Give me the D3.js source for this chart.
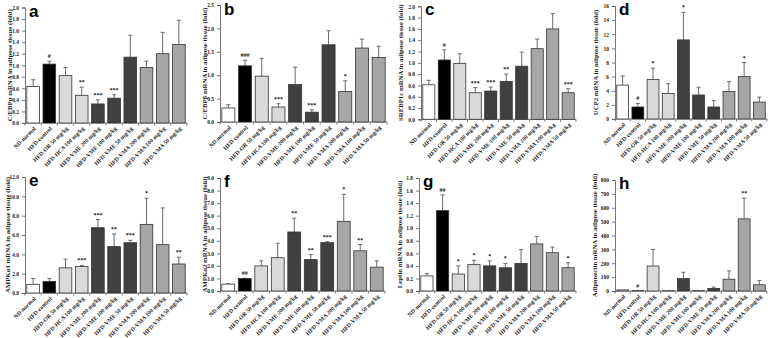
<!DOCTYPE html>
<html lang="en">
<head>
    <meta charset="UTF-8">
    <title>Adipose tissue mRNA expression</title>
    <script src="https://d3js.org/d3.v7.min.js"></script>
    <style>
        body { margin: 0; background: #fff; }
        .tick-label, .cat-label, .y-title, .sig { font-family: "Liberation Serif", "Times New Roman", serif; font-weight: bold; fill: #222; }
        .panel-letter { font-family: "Liberation Sans", Arial, sans-serif; font-weight: bold; fill: #000; }
    </style>
</head>
<body>
<div id="chart"></div>
<script>
    // groups on the x axis
    var categories = ["ND-normal", "HFD-control", "HFD-OR 50 mg/kg", "HFD-HCA 100 mg/kg",
        "HFD-VME 200 mg/kg", "HFD-VME 100 mg/kg", "HFD-VME 50 mg/kg",
        "HFD-VMA 200 mg/kg", "HFD-VMA 100 mg/kg", "HFD-VMA 50 mg/kg"];

    // mean fold change, upper error (SD), significance marks per gene
    var cebpaMean = [0.63, 1.02, 0.82, 0.48, 0.33, 0.43, 1.14, 0.96, 1.20, 1.36];
    var cebpaSd   = [0.12, 0.05, 0.14, 0.14, 0.07, 0.06, 0.38, 0.11, 0.37, 0.42];
    var cebpaSig  = ["", "#", "", "**", "***", "***", "", "", "", ""];

    var cebpbMean = [0.30, 1.20, 0.98, 0.32, 0.80, 0.21, 1.65, 0.65, 1.58, 1.38];
    var cebpbSd   = [0.07, 0.12, 0.38, 0.07, 0.37, 0.05, 0.30, 0.23, 0.19, 0.24];
    var cebpbSig  = ["", "###", "", "***", "", "***", "", "*", "", ""];

    var srebpMean = [0.61, 1.05, 0.99, 0.47, 0.50, 0.67, 0.94, 1.25, 1.60, 0.47];
    var srebpSd   = [0.08, 0.18, 0.17, 0.09, 0.07, 0.13, 0.25, 0.17, 0.27, 0.07];
    var srebpSig  = ["", "#", "", "***", "***", "**", "", "", "", "***"];

    var ucp2Mean = [4.8, 1.7, 5.6, 3.6, 11.2, 3.4, 1.7, 3.9, 6.0, 2.4];
    var ucp2Sd   = [1.3, 0.5, 1.6, 1.4, 3.9, 1.1, 0.9, 1.4, 2.0, 0.7];
    var ucp2Sig  = ["", "#", "*", "", "*", "", "", "", "*", ""];

    var ampk1Mean = [0.9, 1.2, 2.6, 2.75, 6.75, 4.8, 5.2, 7.1, 5.0, 3.0];
    var ampk1Sd   = [0.6, 0.3, 0.9, 0.1, 0.85, 1.3, 0.25, 2.7, 3.8, 0.7];
    var ampk1Sig  = ["", "", "", "***", "***", "**", "***", "*", "", "**"];

    var ampk2Mean = [0.55, 1.0, 2.0, 2.65, 4.7, 2.5, 3.85, 5.55, 3.2, 1.9];
    var ampk2Sd   = [0.03, 0.02, 0.4, 1.15, 1.1, 0.4, 0.07, 2.15, 0.5, 0.5];
    var ampk2Sig  = ["", "##", "", "", "**", "**", "***", "*", "**", ""];

    var leptinMean = [0.24, 1.28, 0.27, 0.42, 0.40, 0.37, 0.44, 0.75, 0.61, 0.37];
    var leptinSd   = [0.04, 0.25, 0.13, 0.07, 0.08, 0.07, 0.22, 0.12, 0.09, 0.08];
    var leptinSig  = ["", "##", "*", "*", "*", "*", "", "", "", "*"];

    var adipoMean = [8, 2, 180, 2, 90, 2, 18, 85, 520, 45];
    var adipoSd   = [0, 0, 120, 0, 45, 0, 10, 60, 150, 30];
    var adipoSig  = ["", "#", "", "", "", "", "", "", "**", ""];

    var fills = ["#ffffff", "#000000", "#d9d9d9", "#d9d9d9", "#404040", "#404040", "#404040", "#a6a6a6", "#a6a6a6", "#a6a6a6"];

    // layout of the eight panels
    var panels = [
        {letter: "a", title: "C/EBP\u03b1 mRNA in adipose tissue (fold)", mean: cebpaMean, sd: cebpaSd, sig: cebpaSig,
         max: 2.0, step: 0.2, fmt: ".1f", x0: 25, x1: 186, top: 7.5, base: 123, tx: 10},
        {letter: "b", title: "C/EBP\u03b2 mRNA in adipose tissue (fold)", mean: cebpbMean, sd: cebpbSd, sig: cebpbSig,
         max: 2.5, step: 0.5, fmt: ".1f", x0: 220, x1: 386, top: 5, base: 122, tx: 205},
        {letter: "c", title: "SREBP1c mRNA in adipose tissue (fold)", mean: srebpMean, sd: srebpSd, sig: srebpSig,
         max: 2.0, step: 0.2, fmt: ".1f", x0: 421, x1: 575, top: 6.3, base: 119.3, tx: 401},
        {letter: "d", title: "UCP2 mRNA in adipose tissue (fold)", mean: ucp2Mean, sd: ucp2Sd, sig: ucp2Sig,
         max: 16, step: 2, fmt: "d", x0: 615, x1: 766, top: 6, base: 119, tx: 596},
        {letter: "e", title: "AMPK\u03b11 mRNA in adipose tissue (fold)", mean: ampk1Mean, sd: ampk1Sd, sig: ampk1Sig,
         max: 12, step: 2, fmt: ".1f", x0: 25, x1: 186, top: 177, base: 293, tx: 8},
        {letter: "f", title: "AMPK\u03b12 mRNA in adipose tissue (fold)", mean: ampk2Mean, sd: ampk2Sd, sig: ampk2Sig,
         max: 9, step: 1, fmt: ".1f", x0: 220, x1: 384, top: 178, base: 291, tx: 205},
        {letter: "g", title: "Leptin mRNA in adipose tissue (fold)", mean: leptinMean, sd: leptinSd, sig: leptinSig,
         max: 1.8, step: 0.2, fmt: ".1f", x0: 419, x1: 575, top: 178, base: 291, tx: 400},
        {letter: "h", title: "Adiponectin mRNA in adipose tissue (fold)", mean: adipoMean, sd: adipoSd, sig: adipoSig,
         max: 800, step: 100, fmt: "d", x0: 615, x1: 766, top: 180, base: 291, tx: 595}
    ];

    var svg = d3.select("#chart").append("svg")
        .attr("width", 778)
        .attr("height", 338);

    panels.forEach(function(p) {
        var g = svg.append("g");

        var x = d3.scaleBand()
            .domain(categories)
            .range([p.x0 + 1, p.x1])
            .paddingInner(0.22)
            .paddingOuter(0.05);

        var y = d3.scaleLinear()
            .domain([0, p.max])
            .range([p.base, p.top]);

        var ticks = d3.range(0, p.max + p.step / 2, p.step);

        // y axis
        var yAxis = d3.axisLeft(y)
            .tickValues(ticks)
            .tickFormat(d3.format(p.fmt))
            .tickSize(3)
            .tickPadding(3);
        var ya = g.append("g")
            .attr("transform", "translate(" + p.x0 + ",0)")
            .call(yAxis);
        ya.select(".domain").attr("stroke", "#555").attr("stroke-width", 0.8);
        ya.selectAll(".tick line").attr("stroke", "#555").attr("stroke-width", 0.8);
        ya.selectAll(".tick text").attr("class", "tick-label").attr("font-size", 5.5).attr("fill", "#222");

        // x baseline with small ticks between groups
        g.append("line")
            .attr("x1", p.x0).attr("x2", p.x1 + 1)
            .attr("y1", p.base).attr("y2", p.base)
            .attr("stroke", "#555").attr("stroke-width", 0.8);
        var step = x.step();
        g.selectAll(".xtick")
            .data(d3.range(categories.length + 1))
            .enter().append("line")
            .attr("x1", function(i) { return x(categories[0]) - step * x.paddingInner() / 2 + i * step; })
            .attr("x2", function(i) { return x(categories[0]) - step * x.paddingInner() / 2 + i * step; })
            .attr("y1", p.base).attr("y2", p.base + 2.5)
            .attr("stroke", "#555").attr("stroke-width", 0.8);

        var rows = categories.map(function(c, i) {
            return {cat: c, mean: p.mean[i], sd: p.sd[i], sig: p.sig[i], fill: fills[i]};
        });

        // error bars (upper whisker only)
        var cap = 2;
        rows.forEach(function(d) {
            if (d.sd <= 0) return;
            var cx = x(d.cat) + x.bandwidth() / 2;
            g.append("line")
                .attr("x1", cx).attr("x2", cx)
                .attr("y1", y(d.mean)).attr("y2", y(d.mean + d.sd))
                .attr("stroke", "#6b6b6b").attr("stroke-width", 1);
            g.append("line")
                .attr("x1", cx - cap).attr("x2", cx + cap)
                .attr("y1", y(d.mean + d.sd)).attr("y2", y(d.mean + d.sd))
                .attr("stroke", "#6b6b6b").attr("stroke-width", 1);
        });

        // bars
        g.selectAll(".bar")
            .data(rows)
            .enter().append("rect")
            .attr("x", function(d) { return x(d.cat); })
            .attr("y", function(d) { return y(d.mean); })
            .attr("width", x.bandwidth())
            .attr("height", function(d) { return p.base - y(d.mean); })
            .attr("fill", function(d) { return d.fill; })
            .attr("stroke", "#333")
            .attr("stroke-width", 0.8);

        // significance marks
        g.selectAll(".sig")
            .data(rows.filter(function(d) { return d.sig; }))
            .enter().append("text")
            .attr("class", "sig")
            .attr("x", function(d) { return x(d.cat) + x.bandwidth() / 2; })
            .attr("y", function(d) { return y(d.mean + d.sd) - 3; })
            .attr("text-anchor", "middle")
            .attr("font-size", 6)
            .text(function(d) { return d.sig; });

        // rotated category labels
        g.selectAll(".cat-label")
            .data(categories)
            .enter().append("text")
            .attr("class", "cat-label")
            .attr("font-size", 5.8)
            .attr("text-anchor", "end")
            .attr("transform", function(c) {
                return "translate(" + (x(c) + x.bandwidth() / 2 + 3) + "," + (p.base + 6) + ") rotate(-45)";
            })
            .text(function(c) { return c; });

        // y axis title
        g.append("text")
            .attr("class", "y-title")
            .attr("font-size", 6.8)
            .attr("text-anchor", "middle")
            .attr("transform", "translate(" + (p.tx + 2) + "," + ((p.top + p.base) / 2) + ") rotate(-90)")
            .text(p.title);

        // panel letter
        g.append("text")
            .attr("class", "panel-letter")
            .attr("x", p.x0 + 4)
            .attr("y", Math.max(p.top + 9, 15))
            .attr("font-size", 17)
            .text(p.letter);
    });
</script>
</body>
</html>
